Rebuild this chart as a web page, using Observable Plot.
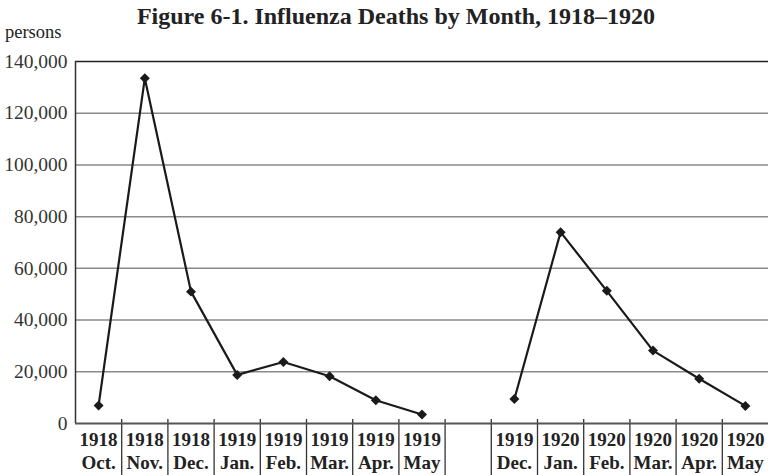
<!DOCTYPE html>
<html><head><meta charset="utf-8">
<script src="https://cdn.jsdelivr.net/npm/d3@7"></script>
<script src="https://cdn.jsdelivr.net/npm/@observablehq/plot@0.6"></script>
<style>
body{margin:0;background:#fff;}
#wrap{position:relative;width:768px;height:475px;font-family:"Liberation Serif",serif;color:#222;overflow:hidden}
#title{position:absolute;top:4px;left:26px;width:740px;text-align:center;font-weight:bold;font-size:24px;line-height:1;white-space:nowrap}
#unit{position:absolute;left:5px;top:23px;font-size:18.5px;line-height:1}
#chart{position:absolute;top:50px;left:0}
</style></head>
<body><div id="wrap"><div id="title">Figure 6-1. Influenza Deaths by Month, 1918–1920</div><div id="unit">persons</div><div id="chart"></div></div>
<script>
const years  = ["1918","1918","1918","1919","1919","1919","1919","1919","","1919","1920","1920","1920","1920","1920"];
const months = ["Oct.","Nov.","Dec.","Jan.","Feb.","Mar.","Apr.","May","","Dec.","Jan.","Feb.","Mar.","Apr.","May"];
const deaths = [7000,133500,51000,18800,23800,18300,9000,3500,null,9500,74000,51300,28200,17300,6800];
const yTicks = [0,20000,40000,60000,80000,100000,120000,140000];

const data = deaths.map((v,i)=>({slot:i+0.5, deaths:v, year:years[i], month:months[i]}));
const bounds = d3.range(1, years.length);
const serif = "Liberation Serif";

const chart = Plot.plot({
  width:768, height:425,
  marginTop:11, marginLeft:75, marginRight:0, marginBottom:52,
  style:{fontFamily:serif, fontSize:"19px", color:"#222", background:"#fff", overflow:"visible"},
  x:{domain:[0, years.length], label:null, axis:null},
  y:{domain:[0,140000], label:null, axis:null},
  marks:[
    Plot.ruleY(yTicks.filter(d=>d>0 && d<140000), {stroke:"#8a8a8a", strokeWidth:1.5}),
    Plot.ruleY([140000], {stroke:"#222", strokeWidth:1.3}),
    Plot.text(yTicks, {y:d=>d, text:d3.format(","), frameAnchor:"left", textAnchor:"end", dx:-8, fontFamily:serif, fontSize:19.5, fill:"#333"}),
    Plot.ruleX([0], {stroke:"#333", strokeWidth:1.5}),
    Plot.axisX(bounds, {tickSize:56, dy:-4, tickFormat:()=>"", stroke:"#333", strokeWidth:1.3, label:null}),
    Plot.ruleY([0], {stroke:"#555", strokeWidth:2.2}),
    Plot.text(data, {x:"slot", text:"year", frameAnchor:"bottom", lineAnchor:"top", dy:8.5, fontFamily:serif, fontWeight:"bold", fontSize:19, fill:"#222"}),
    Plot.text(data, {x:"slot", text:"month", frameAnchor:"bottom", lineAnchor:"top", dy:31.5, fontFamily:serif, fontWeight:"bold", fontSize:19, fill:"#222"}),
    Plot.line(data, {x:"slot", y:"deaths", stroke:"#1a1a1a", strokeWidth:2.2}),
    Plot.dot(data.filter(d=>d.deaths!=null), {x:"slot", y:"deaths", symbol:"diamond2", r:4.5, fill:"#1a1a1a", stroke:"none"})
  ]
});
document.getElementById("chart").appendChild(chart);
</script>
</body></html>
